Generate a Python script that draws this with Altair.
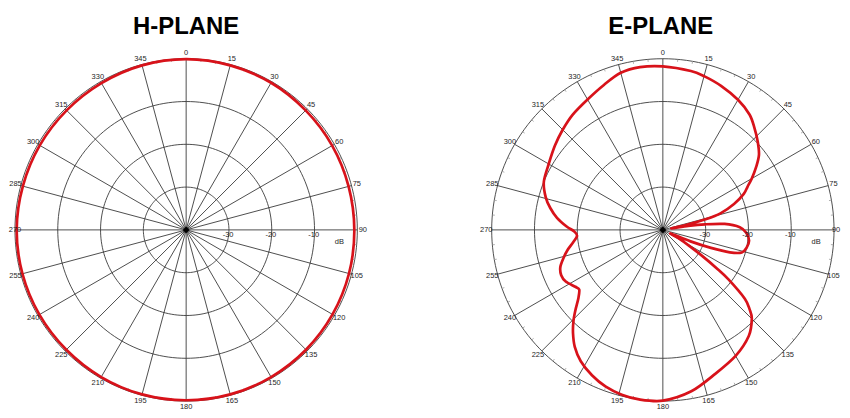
import altair as alt
import numpy as np
import pandas as pd

# ---------------- data ----------------
PANELS = ["H-PLANE", "E-PLANE"]

H_ANGLES = [0, 15, 30, 45, 60, 75, 90, 105, 120, 135, 150, 165,
            180, 195, 210, 225, 240, 255, 270, 285, 300, 315, 330, 345]
H_DB = [-0.1, -0.2, -0.3, -0.5, -0.6, -0.7, -0.7, -0.6, -0.5, -0.4, -0.3, -0.2,
        -0.2, -0.2, -0.3, -0.4, -0.4, -0.4, -0.4, -0.5, -0.5, -0.5, -0.4, -0.2]

E_ANGLES = [0, 10, 15, 22, 30, 37, 42, 47, 52, 56, 60, 63, 66, 70, 74, 76, 78, 79.5,
            81, 82.5, 84.5, 88, 92, 97, 102, 106, 108.5, 110.5, 112.5, 115,
            118, 121, 123.5, 125.5, 127, 130, 132.5, 135, 141, 150, 160, 170,
            180, 188, 194, 200, 206, 212, 217, 221, 224.5, 227.5, 231, 234.5,
            237, 242, 246, 250, 254, 258, 262, 266, 269, 272, 276.5, 281, 285.5,
            292, 300, 308, 315, 322, 330, 338, 345, 352]
E_DB = [-1.8, -2.3, -2.8, -3.7, -4.9, -6.3, -8.0, -9.7, -11.5, -13.7, -16.0, -17.8,
        -19.3, -22.3, -26.0, -29.5, -34.5, -38.0,
        -34.0, -30.0, -25.5, -22.0, -20.5, -19.7, -20.0, -20.8, -23.5, -28.0, -33.0, -38.0,
        -36.0, -33.0, -29.0, -24.5, -20.8, -15.0, -12.5, -10.6, -8.1, -6.0, -4.2, -1.7,
        -0.1, 0.0, -0.3, -1.0, -2.2, -3.8, -5.8, -8.0, -10.2, -12.3, -14.6, -16.0,
        -15.6, -14.3, -14.0, -14.5, -15.8, -17.2, -18.8, -19.9, -19.3, -17.5, -15.1, -13.2, -11.6,
        -10.0, -9.2, -8.0, -6.9, -5.8, -4.8, -3.4, -2.0, -1.6]

RING_DB = [-30, -20, -10, 0]
RING_LABELS = ["-30", "-20", "-10"]
SPOKE_ANGLES = list(range(0, 360, 15))
ANGLE_LABELS = [str(a) for a in SPOKE_ANGLES]
MINOR_ANGLES = [a for a in range(0, 360, 5) if a % 15 != 0]
UNIT_LABEL = "dB"

# ---------------- layout ----------------
FLOOR = -40.0          # dB at the centre
PX = 4.3               # pixels per dB
W, H = 838, 402
CX = {"H-PLANE": 179.0, "E-PLANE": 658.0}   # centre x in px
CY = 222.0                                   # centre y in px
OFF = {p: (CX[p] - CX["H-PLANE"]) / PX for p in PANELS}
XDOM = [-CX["H-PLANE"] / PX, (W - CX["H-PLANE"]) / PX]
YDOM = [-(H - CY) / PX, CY / PX]

GRID = "#3a3a3a"
RED = "#d8121a"
FONT = "Liberation Sans"
LABEL_COLOR = "#1e1e1e"

xs = alt.Scale(domain=XDOM, nice=False, zero=False)
ys = alt.Scale(domain=YDOM, nice=False, zero=False)


def X(f):
    return alt.X(f + ":Q", scale=xs, axis=None)


def Y(f):
    return alt.Y(f + ":Q", scale=ys, axis=None)


def polar(rexpr, name_x="x", name_y="y"):
    return {
        name_x: f"datum.off + ({rexpr}) * sin(datum.ang * PI / 180)",
        name_y: f"({rexpr}) * cos(datum.ang * PI / 180)",
    }


R_DB = f"max(datum.db - ({FLOOR}), 0)"

# curves
h_df = pd.DataFrame({"ang": H_ANGLES, "db": H_DB, "off": OFF["H-PLANE"]})
e_df = pd.DataFrame({"ang": E_ANGLES, "db": E_DB, "off": OFF["E-PLANE"]})


def curve(df):
    return (
        alt.Chart(df)
        .transform_calculate(**polar(R_DB))
        .mark_line(color=RED, strokeWidth=2.7, interpolate="cardinal-closed", tension=0.1)
        .encode(x=X("x"), y=Y("y"), order=alt.Order("ang:Q"))
    )


# rings
ring_rows = []
for p in PANELS:
    for rd in RING_DB:
        for a in np.arange(0, 360, 2):
            ring_rows.append({"panel": p, "ring": rd, "ang": float(a), "db": rd, "off": OFF[p]})
ring_df = pd.DataFrame(ring_rows)
rings = (
    alt.Chart(ring_df)
    .transform_calculate(**polar(R_DB))
    .mark_line(color=GRID, strokeWidth=0.9, interpolate="linear-closed")
    .encode(x=X("x"), y=Y("y"), detail=["panel:N", "ring:Q"], order=alt.Order("ang:Q"))
)

# spokes
spoke_df = pd.DataFrame([{"panel": p, "ang": a, "off": OFF[p]} for p in PANELS for a in SPOKE_ANGLES])
R_OUT = f"{RING_DB[-1] - FLOOR}"
spokes = (
    alt.Chart(spoke_df)
    .transform_calculate(x0="datum.off", y0="0", **polar(R_OUT, "x1", "y1"))
    .mark_rule(color=GRID, strokeWidth=0.9)
    .encode(x=X("x0"), y=Y("y0"), x2="x1:Q", y2="y1:Q")
)

# minor ticks on the outer ring
minor_df = pd.DataFrame([{"panel": p, "ang": a, "off": OFF[p]} for p in PANELS for a in MINOR_ANGLES])
R_IN = f"{RING_DB[-1] - FLOOR - 2.5 / PX}"
minor = (
    alt.Chart(minor_df)
    .transform_calculate(**polar(R_IN, "x0", "y0"), **polar(R_OUT, "x1", "y1"))
    .mark_rule(color="#9a9a9a", strokeWidth=0.8)
    .encode(x=X("x0"), y=Y("y0"), x2="x1:Q", y2="y1:Q")
)

# centre diamonds
centre_df = pd.DataFrame({"panel": PANELS, "off": [OFF[p] for p in PANELS]})
centres = (
    alt.Chart(centre_df)
    .transform_calculate(y0="0")
    .mark_point(shape="diamond", filled=True, color="black", size=45, opacity=1)
    .encode(x=X("off"), y=Y("y0"))
)

# angle labels (kept inside the canvas)
lab_df = pd.DataFrame([{"panel": p, "ang": a, "txt": t, "off": OFF[p]}
                       for p in PANELS for a, t in zip(SPOKE_ANGLES, ANGLE_LABELS)])
R_LAB = f"{177.5 / PX}"
XLO = XDOM[0] + 7.0 / PX
XHI = XDOM[1] - 6.0 / PX
ang_labels = (
    alt.Chart(lab_df)
    .transform_calculate(**polar(R_LAB, "xr", "y"))
    .transform_calculate(x=f"clamp(datum.xr, {XLO}, {XHI})")
    .mark_text(font=FONT, fontSize=7.5, color=LABEL_COLOR, align="center", baseline="middle")
    .encode(x=X("x"), y=Y("y"), text="txt:N")
)

# dB ring labels
dbl_df = pd.DataFrame([{"panel": p, "db": d, "txt": t, "off": OFF[p]}
                       for p in PANELS for d, t in zip(RING_DB[:3], RING_LABELS)])
db_labels = (
    alt.Chart(dbl_df)
    .transform_calculate(x=f"datum.off + datum.db - ({FLOOR}) - 0.2", y=f"{-5.5 / PX}")
    .mark_text(font=FONT, fontSize=7.5, color=LABEL_COLOR, align="center", baseline="middle")
    .encode(x=X("x"), y=Y("y"), text="txt:N")
)
unit_df = pd.DataFrame({"panel": PANELS, "txt": [UNIT_LABEL] * 2, "off": [OFF[p] for p in PANELS]})
unit_labels = (
    alt.Chart(unit_df)
    .transform_calculate(x=f"datum.off + {154.0 / PX}", y=f"{-12.5 / PX}")
    .mark_text(font=FONT, fontSize=7.5, color=LABEL_COLOR, align="center", baseline="middle")
    .encode(x=X("x"), y=Y("y"), text="txt:N")
)

# titles
title_df = pd.DataFrame({"panel": PANELS, "off": [OFF["H-PLANE"] + 0.0, OFF["E-PLANE"] - 0.5]})
titles = (
    alt.Chart(title_df)
    .transform_calculate(y=f"{(CY - 25.3) / PX}")
    .mark_text(font=FONT, fontSize=24, fontWeight="bold", color="black", align="center",
               baseline="alphabetic")
    .encode(x=X("off"), y=Y("y"), text="panel:N")
)

chart = (
    alt.layer(rings, minor, spokes, curve(h_df), curve(e_df), centres, ang_labels, db_labels,
              unit_labels, titles)
    .properties(width=W, height=H, autosize="none", padding=0, background="white")
    .configure_view(stroke=None)
)

chart.save("out.html", embed_options={"renderer": "svg", "actions": False})
